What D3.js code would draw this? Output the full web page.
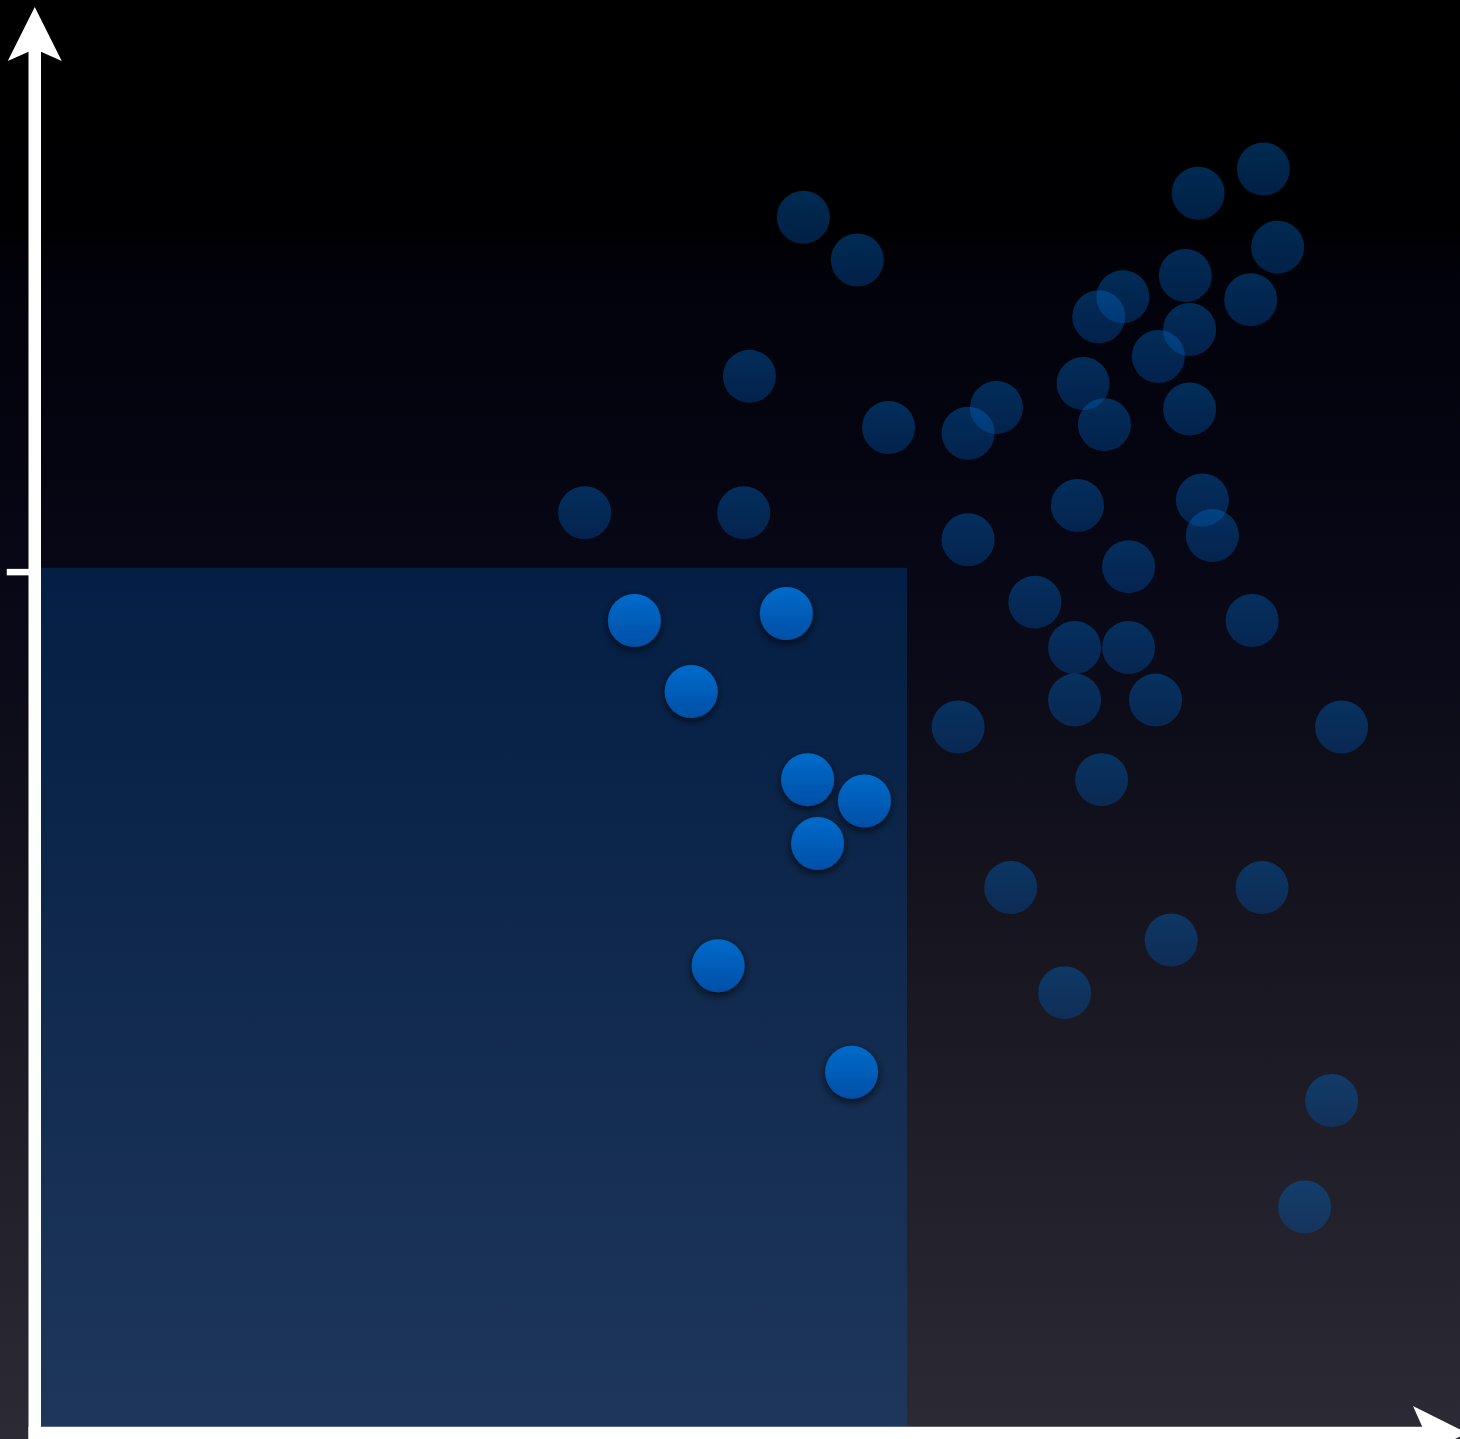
<!DOCTYPE html>
<html>
<head>
<meta charset="utf-8">
<script src="https://cdn.jsdelivr.net/npm/d3@7"></script>
<style>
  html, body { margin: 0; padding: 0; background: #000; }
  svg { display: block; }
</style>
</head>
<body>
<div id="chart"></div>
<script>
// ---- Data (units 0..100 on both axes) ----
const highlightX = [42.0, 52.7, 46.0, 54.2, 58.2, 54.9, 47.9, 57.3];
const highlightY = [57.0, 57.5, 52.0, 45.8, 44.3, 41.3, 32.7, 25.2];

const otherX = [53.9, 57.7, 50.1, 59.9, 67.5, 65.5, 38.5, 49.7, 65.5,
                86.3, 81.7, 87.3, 80.8, 76.4, 74.7, 85.4, 81.1, 78.9, 73.6, 81.1, 75.1,
                73.2, 82.0, 82.7, 76.8, 70.2, 85.5, 73.0, 76.8, 73.0, 78.7,
                64.8, 91.8, 74.9, 68.5, 86.2, 79.8, 72.3, 91.1, 89.2];
const otherY = [85.4, 82.4, 74.2, 70.6, 72.0, 70.2, 64.6, 64.6, 62.7,
                88.8, 87.1, 83.3, 81.3, 79.8, 78.4, 79.6, 77.5, 75.6, 73.7, 71.9, 70.8,
                65.1, 65.5, 63.0, 60.8, 58.3, 57.0, 55.1, 55.1, 51.4, 51.4,
                49.5, 49.5, 45.8, 38.2, 38.2, 34.5, 30.8, 23.2, 15.7];

const xThreshold = 61.2;   // right edge of the highlighted region
const yThreshold = 60.72;  // top edge of the highlighted region
const yTickValues = [60.45];
const yTickLabels = [""];

// ---- Layout ----
const W = 1460, H = 1439;
const x = d3.scaleLinear().domain([0, 100]).range([38, 1458]);
const y = d3.scaleLinear().domain([0, 100]).range([1430, 10]);
const R = 26.5;

const svg = d3.select("#chart").append("svg")
  .attr("width", W).attr("height", H);

const defs = svg.append("defs");

const bg = defs.append("linearGradient").attr("id", "bg")
  .attr("x1", 0).attr("y1", 0).attr("x2", 0).attr("y2", 1);
[[0, "#000000"], [0.16, "#000003"], [0.2, "#02020b"], [0.4, "#070716"],
 [0.62, "#14131e"], [0.78, "#1e1d28"], [1, "#2c2a35"]]
  .forEach(([o, c]) => bg.append("stop").attr("offset", o).attr("stop-color", c));

const dot = defs.append("linearGradient").attr("id", "dot")
  .attr("x1", 0).attr("y1", 0).attr("x2", 0).attr("y2", 1);
dot.append("stop").attr("offset", 0).attr("stop-color", "#006bca");
dot.append("stop").attr("offset", 1).attr("stop-color", "#004fa6");

const sh = defs.append("filter").attr("id", "shadow")
  .attr("x", "-50%").attr("y", "-50%").attr("width", "200%").attr("height", "200%");
sh.append("feDropShadow").attr("dx", 0).attr("dy", 3).attr("stdDeviation", 4)
  .attr("flood-color", "#000").attr("flood-opacity", 0.7);

// background
svg.append("rect").attr("width", W).attr("height", H).attr("fill", "url(#bg)");

// highlighted quadrant
svg.append("rect")
  .attr("x", x(0)).attr("y", y(yThreshold))
  .attr("width", x(xThreshold) - x(0))
  .attr("height", y(0) - y(yThreshold) - 3)
  .attr("fill", "rgb(0,85,180)").attr("fill-opacity", 0.3);

// other points (faint)
svg.append("g").selectAll("circle")
  .data(otherX.map((v, i) => [v, otherY[i]]))
  .join("circle")
  .attr("cx", d => x(d[0])).attr("cy", d => y(d[1])).attr("r", R)
  .attr("fill", "url(#dot)").attr("fill-opacity", 0.4);

// highlighted points
svg.append("g").selectAll("circle")
  .data(highlightX.map((v, i) => [v, highlightY[i]]))
  .join("circle")
  .attr("cx", d => x(d[0])).attr("cy", d => y(d[1])).attr("r", R)
  .attr("fill", "url(#dot)").attr("filter", "url(#shadow)");

// axes
const axisX0 = 34.75, axisY0 = 1433;
const axes = svg.append("g").attr("fill", "#fff").attr("stroke", "none");

// y axis shaft + arrow
axes.append("rect").attr("x", axisX0 - 6.25).attr("y", 45).attr("width", 12.5).attr("height", H - 45);
axes.append("path").attr("d",
  `M${axisX0},7 L${axisX0 + 27},61 L${axisX0},49 L${axisX0 - 27},61 Z`);

// x axis shaft + arrow
axes.append("rect").attr("x", axisX0 - 6.25).attr("y", axisY0 - 6.25).attr("width", 1420).attr("height", 12.5);
const tipX = 1467;
axes.append("path").attr("d",
  `M${tipX},${axisY0} L${tipX - 54},${axisY0 - 27} L${tipX - 42},${axisY0} L${tipX - 54},${axisY0 + 27} Z`);

// y tick
const yAxis = d3.axisLeft(y).tickValues(yTickValues).tickFormat((d, i) => yTickLabels[i])
  .tickSize(28).tickSizeOuter(0);
const ga = svg.append("g").attr("transform", `translate(${axisX0},0)`).call(yAxis);
ga.select(".domain").remove();
ga.selectAll(".tick line").attr("stroke", "#fff").attr("stroke-width", 6.5);
ga.selectAll(".tick text").remove();
</script>
</body>
</html>
